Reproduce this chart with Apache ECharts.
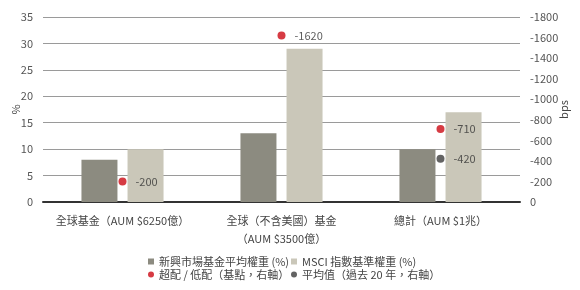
<!DOCTYPE html>
<html><head><meta charset="utf-8">
<script src="https://cdn.jsdelivr.net/npm/echarts@6/dist/echarts.min.js"></script>
<style>html,body{margin:0;padding:0;background:#fff}#c{width:580px;height:290px}</style>
</head><body><div id="c"></div>
<script>
const categories = ['全球基金（AUM $6250億）', '全球（不含美國）基金\n（AUM $3500億）', '總計（AUM $1兆）'];
const emFundWeight = [8, 13, 10];
const msciWeight = [10, 29, 17];
const overUnder = [-200, -1620, -710];
const avg20y = [null, null, -420];
const leftTicks = {min: 0, max: 35, interval: 5};
const rightTicks = {min: -1800, max: 0, interval: 200};
const names = ['新興市場基金平均權重 (%)', 'MSCI 指數基準權重 (%)', '超配 / 低配（基點，右軸）', '平均值（過去 20 年，右軸）'];

const font = '"Noto Sans CJK TC", "Noto Sans", sans-serif';
const chart = echarts.init(document.getElementById('c'));
const legendBase = {orient: 'vertical', top: 251, itemGap: 2, itemWidth: 6, itemHeight: 6,
  textStyle: {fontFamily: font, fontSize: 11, color: '#444'}};
chart.setOption({
  animation: false,
  textStyle: {fontFamily: font},
  grid: {left: 43, right: 60, top: 17, bottom: 88, containLabel: false, outerBoundsMode: 'none'},
  legend: [
    Object.assign({left: 143, data: [{name: names[0], icon: 'rect'}, {name: names[2], icon: 'circle'}]}, legendBase),
    Object.assign({left: 286, data: [{name: names[1], icon: 'rect'}, {name: names[3], icon: 'circle'}]}, legendBase)
  ],
  xAxis: {
    type: 'category', data: categories,
    axisLine: {lineStyle: {color: '#333', width: 2}},
    axisTick: {show: false},
    axisLabel: {interval: 0, fontFamily: font, fontSize: 11, color: '#444', margin: 10, lineHeight: 18}
  },
  yAxis: [
    {type: 'value', min: leftTicks.min, max: leftTicks.max, interval: leftTicks.interval,
     name: '%', nameLocation: 'middle', nameGap: 22, nameRotate: 90, nameMoveOverlap: false,
     nameTextStyle: {fontFamily: font, fontSize: 11, color: '#444'},
     axisLine: {show: false}, axisTick: {show: false},
     axisLabel: {fontFamily: font, fontSize: 11, color: '#555', margin: 10},
     splitLine: {lineStyle: {color: '#9a9a9a', width: 1}}},
    {type: 'value', min: rightTicks.min, max: rightTicks.max, interval: rightTicks.interval, inverse: true,
     name: 'bps', nameLocation: 'middle', nameGap: 38, nameRotate: 90, nameMoveOverlap: false,
     nameTextStyle: {fontFamily: font, fontSize: 11, color: '#444'},
     axisLine: {show: false}, axisTick: {show: false},
     axisLabel: {fontFamily: font, fontSize: 11, color: '#555', margin: 10, formatter: v => String(v)},
     splitLine: {show: false}}
  ],
  series: [
    {name: names[0], type: 'bar', data: emFundWeight, barWidth: 36, barGap: '28%',
     itemStyle: {color: '#8c8b80'}},
    {name: names[1], type: 'bar', data: msciWeight, barWidth: 36,
     itemStyle: {color: '#cac7b9'}},
    {name: names[2], type: 'scatter', yAxisIndex: 1, data: overUnder, symbolSize: 8, z: 5,
     itemStyle: {color: '#cc0a14'},
     label: {show: true, position: 'right', distance: 9, formatter: p => p.value, fontFamily: font, fontSize: 11, color: '#333'}},
    {name: names[3], type: 'scatter', yAxisIndex: 1, data: avg20y, symbolSize: 8, z: 5,
     itemStyle: {color: '#3c3c3c'},
     label: {show: true, position: 'right', distance: 9, formatter: p => p.value, fontFamily: font, fontSize: 11, color: '#333'}}
  ]
});
</script></body></html>
